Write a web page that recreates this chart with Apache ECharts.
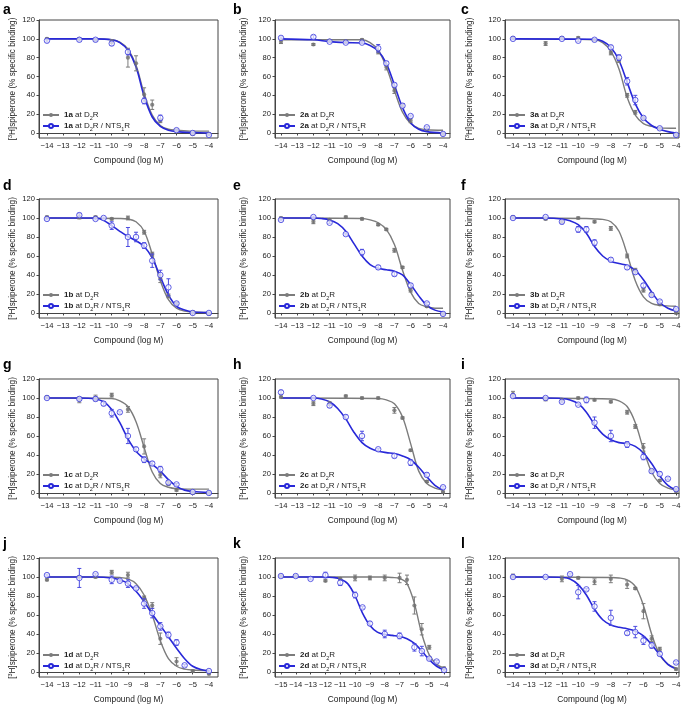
<!DOCTYPE html>
<html><head><meta charset="utf-8">
<script src="https://cdn.jsdelivr.net/npm/echarts@6/dist/echarts.min.js"></script>
<style>html,body{margin:0;padding:0;background:#fff}#c{width:685px;height:705px}</style>
</head><body><div id="c"></div>
<script>
// ---------- DATA ----------
const letters = ['a','b','c','d','e','f','g','h','i','j','k','l'];
const compounds = ['1a','2a','3a','1b','2b','3b','1c','2c','3c','1d','2d','3d'];
const xTicks = [-14,-13,-12,-11,-10,-9,-8,-7,-6,-5,-4];
const xTicksK = [-15,-14,-13,-12,-11,-10,-9,-8,-7,-6,-5,-4];
const yTicks = [0,20,40,60,80,100,120];
const xTitle = 'Compound (log M)';

// points: [log M, % specific binding, SEM]; fits: [log M, %]
const a_d2 = [[-14,100,1],[-12,100,1],[-11,99,1],[-10,97,2],[-9,80,10],[-8.5,74,8],[-8,41,7],[-7.5,30,5],[-7,13,2],[-6,3,1],[-5,-1,1],[-4,-1,1]];
const a_nts = [[-14,98,1.5],[-12,99,1.5],[-11,99,1.5],[-10,95,2],[-9,86,3],[-8,34,3],[-7,16,3],[-6,3,1],[-5,0,1],[-4,-2,1]];
const a_fit_d2 = [[-14,100],[-11,100],[-10,99],[-9.5,96.5],[-9,89],[-8.5,72],[-8,42],[-7.5,19],[-7,8],[-6.5,4],[-6,3],[-5,2],[-4,2]];
const a_fit_nts = [[-14,100],[-11,100],[-10,99],[-9.5,96],[-9,88],[-8.5,70],[-8,39],[-7.5,17],[-7,7],[-6.5,3],[-6,1.5],[-5,0.5],[-4,0]];

const b_d2 = [[-14,97,2],[-12,94,1],[-11,98,1],[-10,97,1],[-9,99,1],[-8,86,2],[-7.5,70,3],[-7,45,3],[-6.5,29,2],[-6,13,2],[-5,4,1],[-4,-1,1]];
const b_nts = [[-14,101,1],[-12,102,1.5],[-11,97,1],[-10,96,1],[-9,96,1],[-8,90,4],[-7.5,74,2],[-7,51,2],[-6.5,29,2],[-6,18,1],[-5,6,1],[-4,-1,1]];
const b_fit_d2 = [[-14,99],[-9,99],[-8.5,96],[-8,88],[-7.5,70],[-7,45],[-6.5,22],[-6,10],[-5.5,5],[-5,3.5],[-4,3]];
const b_fit_nts = [[-14,100],[-12,99],[-11,97],[-10,96],[-9,95.5],[-8.5,93],[-8,87],[-7.5,74],[-7,51],[-6.5,27],[-6,11],[-5.5,4],[-5,1.5],[-4,0]];

const c_d2 = [[-14,101,1],[-12,95,2],[-11,101,1],[-10,101,1],[-9,99,1],[-8,85,2],[-7.5,77,2],[-7,40,2],[-6.5,22,2],[-6,16,1],[-5,5,1],[-4,-2,1]];
const c_nts = [[-14,100,1],[-11,100,1],[-10,98,1],[-9,99,1],[-8,91,2],[-7.5,80,3],[-7,55,4],[-6.5,35,5],[-6,16,1],[-5,5,1],[-4,-2,1]];
const c_fit_d2 = [[-14,100],[-9,99],[-8.5,96],[-8,87],[-7.5,68],[-7,38],[-6.5,19],[-6,10],[-5.5,7],[-5,5.5],[-4,5]];
const c_fit_nts = [[-14,100],[-9,99.5],[-8.5,97.5],[-8,91],[-7.5,77],[-7,54],[-6.5,31],[-6,16],[-5.5,8],[-5,4],[-4.5,1.5],[-4,0]];

const d_d2 = [[-14,101,1],[-12,101,2],[-11,101,1],[-10,99,1],[-9,100,2],[-8,85,2],[-7.5,62,2],[-7,36,4],[-6.5,18,2],[-6,10,1],[-5,1,1],[-4,-1,1]];
const d_nts = [[-14,99,1],[-12,103,2],[-11,99,1],[-10.5,100,1],[-10,92,4],[-9,80,10],[-8.5,80,5],[-8,71,3],[-7.5,55,7],[-7,40,5],[-6.5,27,9],[-6,10,1],[-5,0,1],[-4,0,1]];
const d_fit_d2 = [[-14,100],[-9.5,99.5],[-9,99],[-8.5,96],[-8,86],[-7.5,62],[-7,34],[-6.5,14],[-6,5],[-5.5,2],[-5,1],[-4,0.5]];
const d_fit_nts = [[-14,100],[-11,100],[-10.5,97.5],[-10,92],[-9.5,86],[-9,80.5],[-8.5,76],[-8,70],[-7.5,58],[-7,38],[-6.5,19],[-6,7],[-5.5,3],[-5,1],[-4,0.5]];

const e_d2 = [[-14,100,1],[-12,96,2],[-11,98,1],[-10,101,1],[-9,99,1],[-8,93,1],[-7.5,88,1],[-7,66,2],[-6.5,48,1],[-6,24,2],[-5,7,1],[-4,-1,1]];
const e_nts = [[-14,98,1],[-12,101,1],[-11,95,1],[-10,83,1],[-9,64,3],[-8,48,2],[-7,41,2],[-6,29,2],[-5,10,1],[-4,-1,1]];
const e_fit_d2 = [[-14,100],[-9,99.5],[-8.5,98],[-8,95],[-7.5,88],[-7,72],[-6.5,45],[-6,22],[-5.5,10],[-5,6.5],[-4.5,5],[-4,5]];
const e_fit_nts = [[-14,100],[-12,100],[-11.5,99.5],[-11,98],[-10.5,94],[-10,86],[-9.5,73],[-9,60],[-8.5,51],[-8,47],[-7.5,45.5],[-7,44],[-6.5,40],[-6,30],[-5.5,18],[-5,8],[-4.5,3],[-4,1]];

const f_d2 = [[-14,101,1],[-12,99,1],[-11,96,1],[-10,100,1],[-9,96,1],[-8,89,2],[-7,60,2],[-6.5,45,2],[-6,24,2],[-5.5,20,1],[-5,9,1],[-4,0,1]];
const f_nts = [[-14,100,1],[-12,101,1],[-11,96,2],[-10,88,3],[-9.5,88,3],[-9,74,3],[-8,56,2],[-7,48,2],[-6.5,43,2],[-6,29,2],[-5.5,19,2],[-5,12,1],[-4,4,1]];
const f_fit_d2 = [[-14,100],[-9.5,99.5],[-9,99],[-8.5,98.5],[-8,96],[-7.5,86],[-7,62],[-6.5,34],[-6,17],[-5.5,10],[-5,8],[-4,7]];
const f_fit_nts = [[-14,100],[-12,100],[-11,99],[-10.5,97],[-10,93],[-9.5,84],[-9,70],[-8.5,60],[-8,54.5],[-7.5,52],[-7,50],[-6.5,45],[-6,35],[-5.5,22],[-5,11],[-4.5,5],[-4,2]];

const g_d2 = [[-14,101,1],[-12,98,3],[-11,100,3],[-10,103,2],[-9,88,3],[-8,49,8],[-7,19,3],[-6.5,10,2],[-6,3,1],[-5,0,1],[-4,0,1]];
const g_nts = [[-14,100,1],[-12,99,1],[-11,99,2],[-10.5,94,2],[-10,84,4],[-9.5,85,1],[-9,60,8],[-8.5,46,2],[-8,35,3],[-7.5,31,2],[-7,25,3],[-6.5,11,2],[-6,9,1],[-5,1,1],[-4,0,1]];
const g_fit_d2 = [[-14,100],[-10,99.5],[-9.5,97],[-9,91],[-8.5,75],[-8,48],[-7.5,22],[-7,10],[-6.5,6],[-6,4.5],[-5,4],[-4,4]];
const g_fit_nts = [[-14,100],[-12,100],[-11,99],[-10.5,96],[-10,88],[-9.5,74],[-9,57],[-8.5,44],[-8,36],[-7.5,30],[-7,23],[-6.5,14],[-6,7],[-5.5,3],[-5,1.5],[-4,0.5]];

const h_d2 = [[-14,101,1],[-12,94,2],[-11,94,2],[-10,102,1],[-9,100,1],[-8,100,1],[-7,87,3],[-6.5,79,1],[-6,45,1],[-5,12,1],[-4,1,1]];
const h_nts = [[-14,106,2],[-12,100,1],[-11,92,2],[-10,80,2],[-9,60,5],[-8,46,1],[-7,39,2],[-6,32,3],[-5,19,2],[-4,6,1]];
const h_fit_d2 = [[-14,100],[-8,99.5],[-7.5,98],[-7,94],[-6.5,80],[-6,52],[-5.5,23],[-5,10],[-4.5,5],[-4,3]];
const h_fit_nts = [[-14,100],[-12,100],[-11.5,99],[-11,96],[-10.5,89],[-10,78],[-9.5,64],[-9,53],[-8.5,47],[-8,44],[-7.5,42.5],[-7,41.5],[-6.5,39],[-6,35],[-5.5,27],[-5,17],[-4.5,8],[-4,3]];

const i_d2 = [[-14,104,3],[-12,99,2],[-11,98,1],[-10,100,1],[-9,98,1],[-8,96,1],[-7,85,2],[-6.5,70,2],[-6,48,4],[-5.5,23,2],[-5,13,1],[-4,2,1]];
const i_nts = [[-14,102,1],[-12,100,1],[-11,96,1],[-10,93,1],[-9.5,98,3],[-9,74,6],[-8,60,6],[-7,51,3],[-6,38,3],[-5.5,23,1],[-5,20,2],[-4.5,15,1],[-4,4,1]];
const i_fit_d2 = [[-14,100],[-8,99],[-7.5,97],[-7,91],[-6.5,74],[-6,46],[-5.5,22],[-5,10],[-4.5,5],[-4,3]];
const i_fit_nts = [[-14,100],[-12,100],[-11,99.5],[-10.5,98],[-10,94],[-9.5,85],[-9,72],[-8.5,62],[-8,56],[-7.5,53],[-7,52],[-6.5,49],[-6,42],[-5.5,31],[-5,18],[-4.5,8],[-4,3]];

const j_d2 = [[-14,97,1],[-12,100,1],[-11,100,1],[-10,105,2],[-9,102,3],[-8,78,2],[-7.5,70,3],[-7,35,6],[-6,11,4],[-5,1,1],[-4,-2,1]];
const j_nts = [[-14,102,1],[-12,99,10],[-11,103,1],[-10,97,4],[-9.5,96,1],[-9,93,4],[-8.5,88,1],[-8,72,5],[-7.5,62,5],[-7,48,4],[-6.5,39,3],[-6,31,3],[-5.5,7,1],[-4,1,1]];
const j_fit_d2 = [[-14,100],[-10,99.8],[-9.5,99.5],[-9,98],[-8.5,93],[-8,81],[-7.5,60],[-7,33],[-6.5,14],[-6,6],[-5.5,3],[-5,2],[-4,1.5]];
const j_fit_nts = [[-14,100],[-11,100],[-10,99],[-9.5,97],[-9,93],[-8.5,85],[-8,74],[-7.5,61],[-7,49],[-6.5,37],[-6,25],[-5.5,14],[-5,6],[-4.5,2.5],[-4,1]];

const k_d2 = [[-15,101,1],[-14,101,1],[-12,96,1],[-11,98,1],[-10,99,3],[-9,99,2],[-8,99,3],[-7,99,5],[-6.5,97,5],[-6,70,9],[-5.5,45,6],[-5,26,2],[-4,4,1]];
const k_nts = [[-15,101,1],[-14,101,1],[-13,98,1],[-12,102,3],[-11,94,3],[-10,81,3],[-9.5,68,1],[-9,51,2],[-8,40,4],[-7,38,3],[-6,26,4],[-5.5,22,5],[-5,14,1],[-4.5,11,1],[-4,2,1]];
const k_fit_d2 = [[-15,100],[-8,100],[-7.5,99.5],[-7,98.5],[-6.5,93],[-6,72],[-5.5,40],[-5,18],[-4.5,8],[-4,4]];
const k_fit_nts = [[-15,100],[-12,100],[-11.5,99.5],[-11,98],[-10.5,93],[-10,80],[-9.5,62],[-9,49],[-8.5,42],[-8,39.5],[-7.5,38.5],[-7,37.5],[-6.5,35],[-6,30],[-5.5,22],[-5,13],[-4.5,6],[-4,2]];

const l_d2 = [[-14,101,2],[-11,98,3],[-10,99,1],[-9,95,3],[-8,98,4],[-7,92,4],[-6.5,88,1],[-6,64,8],[-5.5,35,3],[-5,24,2],[-4,3,1]];
const l_nts = [[-14,100,1],[-12,100,1],[-10.5,103,1],[-10,84,7],[-9.5,87,1],[-9,69,5],[-8,57,8],[-7,41,2],[-6.5,42,6],[-6,33,4],[-5.5,28,3],[-5,19,2],[-4,10,1]];
const l_fit_d2 = [[-14,100],[-8,99.5],[-7.5,99],[-7,97],[-6.5,90],[-6,70],[-5.5,40],[-5,18],[-4.5,8],[-4,4]];
const l_fit_nts = [[-14,100],[-12,100],[-11,99.5],[-10.5,98],[-10,92],[-9.5,81],[-9,66],[-8.5,55],[-8,49.5],[-7.5,47],[-7,45.5],[-6.5,43],[-6,38],[-5.5,29],[-5,18],[-4.5,8],[-4,3]];

const panelData = [
  [a_d2,a_nts,a_fit_d2,a_fit_nts],[b_d2,b_nts,b_fit_d2,b_fit_nts],[c_d2,c_nts,c_fit_d2,c_fit_nts],
  [d_d2,d_nts,d_fit_d2,d_fit_nts],[e_d2,e_nts,e_fit_d2,e_fit_nts],[f_d2,f_nts,f_fit_d2,f_fit_nts],
  [g_d2,g_nts,g_fit_d2,g_fit_nts],[h_d2,h_nts,h_fit_d2,h_fit_nts],[i_d2,i_nts,i_fit_d2,i_fit_nts],
  [j_d2,j_nts,j_fit_d2,j_fit_nts],[k_d2,k_nts,k_fit_d2,k_fit_nts],[l_d2,l_nts,l_fit_d2,l_fit_nts]
];

// ---------- LAYOUT / STYLE ----------
const FONT = '"Liberation Sans", Arial, Helvetica, sans-serif';
const GRAY = '#7c7c7c', BLUE = '#2828d8', AXIS = '#444', TXT = '#222';
const colLeft = [39, 275, 505], colRight = [218, 450, 679];
const rowTop = [20, 199, 379, 558], rowBottom = [138, 318, 498, 678];
const xRange = [[-14.49,-3.44],[-14.37,-3.57],[-14.49,-3.82]];
const xRangeK = [-15.4,-3.6];
const yNameGap = [21, 26, 30];
const letterX = [3, 233, 461];
const letterY = [10, 186, 365, 544];

function minus(v){ return String(v).replace('-', '\u2212'); }
function errRender(color){
  return function(params, api){
    const x = api.value(0), y = api.value(1), e = api.value(2);
    const t = api.coord([x, y + e]), b = api.coord([x, y - e]);
    const w = 2;
    const st = {stroke: color, lineWidth: 1};
    return {type:'group', children:[
      {type:'line', shape:{x1:t[0], y1:t[1], x2:b[0], y2:b[1]}, style: st},
      {type:'line', shape:{x1:t[0]-w, y1:t[1], x2:t[0]+w, y2:t[1]}, style: st},
      {type:'line', shape:{x1:b[0]-w, y1:b[1], x2:b[0]+w, y2:b[1]}, style: st}
    ]};
  };
}

const grids = [], xAxes = [], yAxes = [], series = [], legends = [], graphics = [];
const richLegend = {
  b: {fontWeight:'bold', fontSize:8, fontFamily:FONT, color:TXT},
  s: {fontSize:5.5, fontFamily:FONT, color:TXT, padding:[6,0,0,0]},
  t: {fontSize:8, fontFamily:FONT, color:TXT}
};
for (let i = 0; i < 12; i++) {
  const col = i % 3, row = Math.floor(i / 3);
  const isK = (i === 10);
  const [pd2, pnts, fd2, fnts] = panelData[i];
  const left = colLeft[col], top = rowTop[row];
  const w = colRight[col] - left, h = rowBottom[row] - top;
  grids.push({left, top, width: w, height: h, show: true, borderColor: AXIS, borderWidth: 1, backgroundColor: 'transparent'});
  const ticks = isK ? xTicksK : xTicks;
  const rng = isK ? xRangeK : xRange[col];
  xAxes.push({
    type:'value', gridIndex:i, min:rng[0], max:rng[1],
    axisLine:{show:true, lineStyle:{color:AXIS, width:1}},
    axisTick:{show:true, length:2.5, customValues: ticks, lineStyle:{color:AXIS}},
    axisLabel:{customValues: ticks, formatter: minus, fontSize:7.6, fontFamily:FONT, color:TXT, margin:4},
    splitLine:{show:false},
    name: xTitle, nameLocation:'middle', nameGap:19,
    nameTextStyle:{fontSize:8.4, fontFamily:FONT, color:TXT}
  });
  yAxes.push({
    type:'value', gridIndex:i, min:-5.3, max:120,
    axisLine:{show:true, lineStyle:{color:AXIS, width:1}},
    axisTick:{show:true, length:2.5, customValues: yTicks, lineStyle:{color:AXIS}},
    axisLabel:{customValues: yTicks, fontSize:7.6, fontFamily:FONT, color:TXT, margin:4},
    splitLine:{show:false},
    name: '[{sup|3}H]spiperone (% specific binding)', nameLocation:'middle', nameGap: yNameGap[col],
    nameTextStyle:{fontSize:8.2, fontFamily:FONT, color:TXT,
      rich:{sup:{fontSize:5.5, fontFamily:FONT, color:TXT, padding:[0,0,5,0]}}}
  });
  const c = compounds[i];
  const nD2 = c + ' at D2R', nNTS = c + ' at D2R / NTS1R';
  series.push({
    name: nD2, type:'line', xAxisIndex:i, yAxisIndex:i, data: fd2, smooth:0.35,
    showSymbol:false, symbol:'circle', symbolSize:4, silent:true, z:2,
    lineStyle:{color:GRAY, width:1.4}, itemStyle:{color:GRAY}
  });
  series.push({
    name: nNTS, type:'line', xAxisIndex:i, yAxisIndex:i, data: fnts, smooth:0.35,
    showSymbol:false, symbol:'circle', symbolSize:5, silent:true, z:3,
    lineStyle:{color:BLUE, width:1.6}, itemStyle:{color:'#fff', borderColor:BLUE, borderWidth:1}
  });
  series.push({
    name: nD2 + ' sem', type:'custom', xAxisIndex:i, yAxisIndex:i, data: pd2,
    encode:{x:0, y:1}, renderItem: errRender(GRAY), z:4, silent:true
  });
  series.push({
    name: nD2 + ' pts', type:'scatter', xAxisIndex:i, yAxisIndex:i, data: pd2.map(p => [p[0], p[1]]),
    symbol:'circle', symbolSize:4.2, itemStyle:{color:'#6f6f6f'}, z:5, silent:true
  });
  series.push({
    name: nNTS + ' sem', type:'custom', xAxisIndex:i, yAxisIndex:i, data: pnts,
    encode:{x:0, y:1}, renderItem: errRender('#4a4ae0'), z:6, silent:true
  });
  series.push({
    name: nNTS + ' pts', type:'scatter', xAxisIndex:i, yAxisIndex:i, data: pnts.map(p => [p[0], p[1]]),
    symbol:'circle', symbolSize:5.5, itemStyle:{color:'rgba(255,255,255,0.85)', borderColor:'#3a3adf', borderWidth:1}, z:7, silent:true
  });
  legends.push({
    data:[nD2, nNTS], orient:'vertical', left: left + 3, top: rowBottom[row] - 27,
    itemWidth:16, itemHeight:5, itemGap:1, padding:0, selectedMode:false,
    formatter: function(name){
      const cc = name.split(' ')[0];
      return name.indexOf('NTS') > -1
        ? '{b|' + cc + '}{t| at D}{s|2}{t|R / NTS}{s|1}{t|R}'
        : '{b|' + cc + '}{t| at D}{s|2}{t|R}';
    },
    textStyle:{fontSize:8, fontFamily:FONT, color:TXT, rich: richLegend}
  });
  graphics.push({
    type:'text', x: letterX[col], y: letterY[row],
    style:{text: letters[i], font:'bold 14px ' + FONT, fill:'#000', verticalAlign:'middle', align:'left'}
  });
}

const chart = echarts.init(document.getElementById('c'));
chart.setOption({
  animation:false, backgroundColor:'#fff',
  grid: grids, xAxis: xAxes, yAxis: yAxes, series: series, legend: legends, graphic: graphics
});
</script>
</body></html>
